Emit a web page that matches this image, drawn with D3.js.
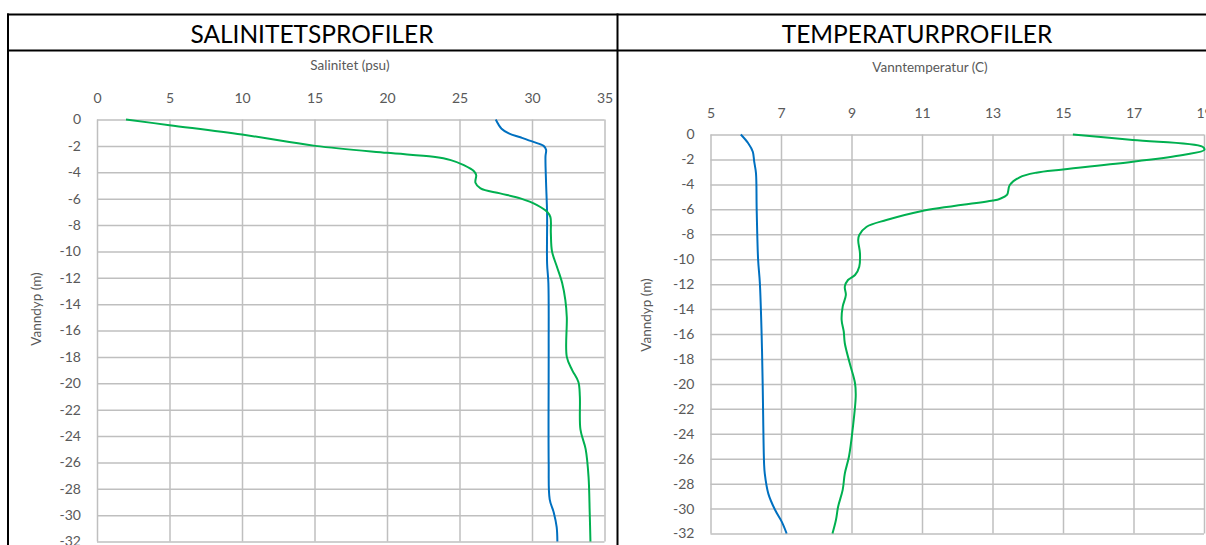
<!DOCTYPE html>
<html>
<head>
<meta charset="utf-8">
<script src="https://cdn.jsdelivr.net/npm/d3@7"></script>
<style>
  body { margin: 0; background: #fff; }
  svg { display: block; font-family: Lato, "Open Sans", sans-serif; }
</style>
</head>
<body>
<div id="chart"></div>
<script>
// [value, depth] pairs
var salBlue = [[27.5,0],[27.9,-0.7],[28.4,-1.05],[29.2,-1.35],[30.1,-1.7],[30.8,-2.0],[30.97,-2.3],[30.93,-2.8],
  [30.97,-4.8],[31.04,-7.1],[31.04,-10.9],[31.13,-12.4],[31.15,-17.5],[31.15,-26],[31.22,-28.8],[31.5,-29.8],[31.7,-30.9],[31.75,-32]];
var salGreen = [[2.0,0],[5.0,-0.43],[10.0,-1.14],[15.05,-2.0],[20.0,-2.53],[23.2,-2.83],[24.4,-3.08],[25.3,-3.46],[26.0,-3.92],
  [26.15,-4.22],[26.1,-4.8],[26.45,-5.23],[27.8,-5.6],[29.2,-5.98],[30.35,-6.49],[31.04,-7.0],[31.27,-7.4],[31.3,-8.6],
  [31.38,-10.0],[31.73,-11.2],[32.08,-12.4],[32.3,-13.7],[32.4,-15.0],[32.4,-18.0],[32.77,-19.0],[33.2,-19.9],[33.3,-21.0],
  [33.34,-23.5],[33.7,-25.0],[33.9,-27.1],[33.98,-29.8],[34.03,-32]];
var tempBlue = [[5.86,0],[6.07,-0.7],[6.2,-1.38],[6.24,-2.18],[6.29,-3.1],[6.31,-6.0],[6.35,-10.0],[6.4,-11.9],[6.45,-16.0],
  [6.48,-20.0],[6.52,-26.4],[6.54,-27.2],[6.64,-28.8],[6.83,-30.1],[7.02,-31.05],[7.16,-32]];
var tempGreen = [[15.28,0],[16.98,-0.44],[18.96,-0.98],[19.01,-1.24],[18.4,-1.64],[16.98,-2.18],[15.0,-2.8],[14.24,-3.06],
  [13.77,-3.43],[13.49,-4.05],[13.41,-4.85],[13.2,-5.17],[13.01,-5.3],[10.97,-6.15],[9.99,-6.86],[9.43,-7.4],[9.22,-8.06],
  [9.19,-8.46],[9.24,-9.53],[9.22,-10.6],[9.1,-11.27],[8.9,-11.67],[8.81,-12.2],[8.84,-12.87],[8.75,-13.8],[8.72,-14.88],
  [8.78,-15.8],[8.81,-16.74],[8.95,-18.35],[9.1,-19.95],[9.12,-21.0],[9.03,-23.7],[8.93,-25.8],[8.81,-27.2],[8.75,-28.5],
  [8.62,-29.85],[8.56,-30.9],[8.46,-32]];

var salTicks = [0, 5, 10, 15, 20, 25, 30, 35];
var tempTicks = [5, 7, 9, 11, 13, 15, 17, 19];
var depthTicks = d3.range(0, -33, -2);

var W = 1206, H = 545;
var blue = "#0070C0", green = "#00B050", grid = "#BFBFBF", txt = "#595959";

var svg = d3.select("#chart").append("svg")
  .attr("width", W)
  .attr("height", H);

svg.append("rect").attr("width", W).attr("height", H).attr("fill", "#fff");

// table frame
var frame = svg.append("g").attr("stroke", "#000").attr("stroke-width", 2);
frame.append("line").attr("x1", 7).attr("x2", W).attr("y1", 14.5).attr("y2", 14.5);
frame.append("line").attr("x1", 7).attr("x2", W).attr("y1", 50.5).attr("y2", 50.5);
frame.append("line").attr("x1", 8).attr("x2", 8).attr("y1", 13.5).attr("y2", H);
frame.append("line").attr("x1", 617.5).attr("x2", 617.5).attr("y1", 13.5).attr("y2", H);

function panel(o) {
  var x = d3.scaleLinear().domain(o.xDomain).range([o.left, o.right]);
  var y = d3.scaleLinear().domain([-32, 0]).range([o.bottom, o.top]);
  var g = svg.append("g");

  svg.append("text")
    .attr("x", o.titleX).attr("y", 42.5)
    .attr("text-anchor", "middle")
    .attr("font-size", "24.5px")
    .attr("fill", "#000")
    .text(o.title);

  var clipId = "clip" + o.left;
  svg.append("clipPath").attr("id", clipId)
    .append("rect")
      .attr("x", o.left - 2).attr("y", o.top - 2)
      .attr("width", o.right - o.left + 4).attr("height", o.bottom - o.top + 4);

  var xa = g.append("g")
    .attr("transform", "translate(0," + o.top + ")")
    .call(d3.axisTop(x).tickValues(o.xTicks).tickSize(-(o.bottom - o.top)).tickPadding(17));
  var ya = g.append("g")
    .attr("transform", "translate(" + o.left + ",0)")
    .call(d3.axisLeft(y).tickValues(depthTicks).tickSize(-(o.right - o.left)).tickPadding(16));

  [xa, ya].forEach(function(a) {
    a.select(".domain").remove();
    a.selectAll(".tick line").attr("stroke", grid).attr("stroke-width", 1.5);
    a.selectAll(".tick text").attr("fill", txt).style("font-size", "14px").style("font-family", "Lato, sans-serif");
  });
  ya.selectAll(".tick text").text(function(d) { return d === 0 ? "0" : "-" + Math.abs(d); });

  svg.append("text")
    .attr("x", o.xTitleX).attr("y", o.xTitleY)
    .attr("text-anchor", "middle")
    .attr("font-size", "13.5px")
    .attr("fill", txt)
    .text(o.xTitle);

  svg.append("text")
    .attr("transform", "translate(" + o.yTitleX + "," + o.yTitleY + ") rotate(-90)")
    .attr("text-anchor", "middle")
    .attr("font-size", "13.5px")
    .attr("fill", txt)
    .text("Vanndyp (m)");

  var line = d3.line()
    .x(function(d) { return x(d[0]); })
    .y(function(d) { return y(d[1]); })
    .curve(d3.curveCatmullRom.alpha(0.5));

  var lines = g.append("g").attr("clip-path", "url(#" + clipId + ")");
  o.series.forEach(function(s) {
    lines.append("path")
      .datum(s.data)
      .attr("fill", "none")
      .attr("stroke", s.color)
      .attr("stroke-width", 2)
      .attr("d", line);
  });
}

panel({
  title: "SALINITETSPROFILER", titleX: 312,
  xDomain: [0, 35], xTicks: salTicks,
  left: 97, right: 604.5, top: 119.5, bottom: 541.5,
  xTitle: "Salinitet (psu)", xTitleX: 350, xTitleY: 70,
  yTitleX: 41, yTitleY: 309,
  series: [{data: salBlue, color: blue}, {data: salGreen, color: green}]
});

panel({
  title: "TEMPERATURPROFILER", titleX: 917,
  xDomain: [5, 19], xTicks: tempTicks,
  left: 710.5, right: 1204, top: 134.5, bottom: 533.5,
  xTitle: "Vanntemperatur (C)", xTitleX: 930, xTitleY: 72,
  yTitleX: 651, yTitleY: 315,
  series: [{data: tempBlue, color: blue}, {data: tempGreen, color: green}]
});
</script>
</body>
</html>
